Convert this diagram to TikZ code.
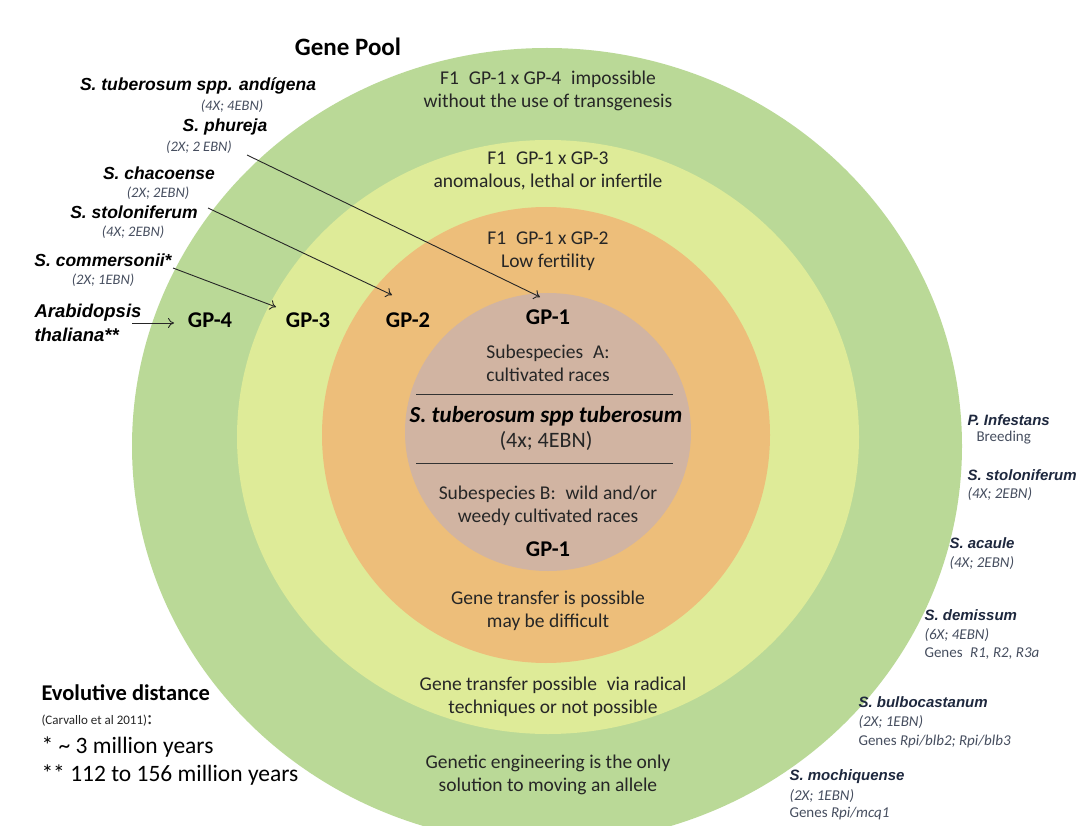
\documentclass[tikz,border=0pt]{standalone}
\usepackage{fontspec}
\setmainfont{Carlito}
\newfontfamily\spfont{Liberation Sans}
\usetikzlibrary{arrows.meta}
\definecolor{ringA}{RGB}{186,217,151}
\definecolor{ringB}{RGB}{222,235,152}
\definecolor{ringC}{RGB}{237,190,122}
\definecolor{ringD}{RGB}{209,180,162}
\definecolor{txt}{RGB}{38,38,38}
\definecolor{navy}{RGB}{30,40,62}
\definecolor{subgray}{RGB}{70,78,95}
\tikzset{
  main/.style={font=\fontsize{19.5}{23}\selectfont, text=txt, align=center},
  gplabel/.style={font=\bfseries\fontsize{22.5}{24}\selectfont, text=black},
  spname/.style={font=\spfont\bfseries\itshape\fontsize{17.5}{20}\selectfont, text=black},
  spsub/.style={font=\itshape\fontsize{14.5}{16}\selectfont, text=subgray},
  rname/.style={font=\spfont\bfseries\itshape\fontsize{15}{17}\selectfont, text=navy, anchor=west},
  rsub/.style={font=\fontsize{15}{17}\selectfont, text=subgray, anchor=west},
  rsubi/.style={rsub, font=\itshape\fontsize{15}{17}\selectfont},
  link/.style={-{To[length=6pt,width=10pt]}, line width=0.9pt, draw=black!85},
  sep/.style={line width=0.9pt, draw=black!80},
  evotext/.style={font=\fontsize{23.5}{26}\selectfont, text=black, anchor=west}
}
\begin{document}
\begin{tikzpicture}[x=1pt,y=-1pt]
\useasboundingbox (0,0) rectangle (1092,826);
\clip (0,0) rectangle (1092,826);
\fill[white] (0,0) rectangle (1092,826);
% rings
\fill[ringA] (547,446) ellipse [x radius=415, y radius=398];
\fill[ringB] (548,437) ellipse [x radius=311, y radius=297];
\fill[ringC] (546,435) ellipse [x radius=224, y radius=228];
\fill[ringD] (548,432) ellipse [x radius=143, y radius=139];

% title
\node[font=\bfseries\fontsize{25}{28}\selectfont, text=black] (title) at (348,47) {Gene Pool};

% ring texts
\node[main] (t4) at (548,91) {F1\enspace GP-1 x GP-4\enspace impossible\\without the use of transgenesis};
\node[main] (t3) at (548,171) {F1\enspace GP-1 x GP-3\\anomalous, lethal or infertile};
\node[main] (t2) at (548,251) {F1\enspace GP-1 x GP-2\\Low fertility};

\node[gplabel] (gp4) at (210,320) {GP-4};
\node[gplabel] (gp3) at (308,320) {GP-3};
\node[gplabel] (gp2) at (408,320) {GP-2};
\node[gplabel] (gp1a) at (548,317) {GP-1};

\node[main] (subA) at (548,363) {Subespecies\enspace A:\\cultivated races};
\coordinate (l1a) at (416,394); \coordinate (l1b) at (673,394);
\draw[sep] (l1a) -- (l1b);
\node[font=\bfseries\itshape\fontsize{23}{26}\selectfont, text=black] (tub) at (546,416) {S. tuberosum spp tuberosum};
\node[main, font=\fontsize{22}{24}\selectfont] (tubsub) at (546,441) {(4x; 4EBN)};
\coordinate (l2a) at (416,463); \coordinate (l2b) at (673,463);
\draw[sep] (l2a) -- (l2b);
\node[main] (subB) at (548,506) {Subespecies B:\enspace wild and/or\\weedy cultivated races};
\node[gplabel] (gp1b) at (548,549) {GP-1};

\node[main] (g2) at (548,611) {Gene transfer is possible\\may be difficult};
\node[main] (g3) at (553,697) {Gene transfer possible\enspace via radical\\techniques or not possible};
\node[main] (g4) at (548,775) {Genetic engineering is the only\\solution to moving an allele};

% left species
\node[spname] (andi) at (198,86) {S. tuberosum spp. andígena};
\node[spsub] (andis) at (232,106) {(4X; 4EBN)};
\node[spname] (phu) at (225,127) {S. phureja};
\node[spsub] (phus) at (199,147) {(2X; 2 EBN)};
\node[spname] (chac) at (159,173) {S. chacoense};
\node[spsub] (chacs) at (158,193) {(2X; 2EBN)};
\node[spname] (stol) at (134,212) {S. stoloniferum};
\node[spsub] (stols) at (133,232) {(4X; 2EBN)};
\node[spname] (comm) at (103,260) {S. commersonii*};
\node[spsub] (comms) at (103,280) {(2X; 1EBN)};
\node[spname, anchor=west, font=\spfont\bfseries\itshape\fontsize{18.5}{20}\selectfont] (arab) at (31,313) {Arabidopsis};
\node[spname, anchor=west, font=\spfont\bfseries\itshape\fontsize{18.5}{20}\selectfont] (thal) at (31,335) {thaliana**};

\coordinate (aphu) at (247,155); \coordinate (ephu) at (540,297);
\coordinate (astol) at (208,208); \coordinate (estol) at (392,295);
\coordinate (acomm) at (173,268); \coordinate (ecomm) at (276,307);
\coordinate (aarab) at (132,323); \coordinate (earab) at (174,323);
\draw[link] (aphu) -- (ephu);
\draw[link] (astol) -- (estol);
\draw[link] (acomm) -- (ecomm);
\draw[link] (aarab) -- (earab);

% right species
\node[rname] (pinf) at (964,420) {P. Infestans};
\node[rsub] (pinfs) at (973,438) {Breeding};
\node[rname] (rstol) at (964,475) {S. stoloniferum};
\node[rsubi] (rstols) at (964,494) {(4X; 2EBN)};
\node[rname] (acau) at (946,543) {S. acaule};
\node[rsubi] (acaus) at (946,563) {(4X; 2EBN)};
\node[rname] (demi) at (921,615) {S. demissum};
\node[rsubi] (demis) at (921,635) {(6X; 4EBN)};
\node[rsub] (demig) at (921,654) {Genes\enspace\textit{R1, R2, R3a}};
\node[rname] (bulb) at (855,702) {S. bulbocastanum};
\node[rsubi] (bulbs) at (855,722) {(2X; 1EBN)};
\node[rsub] (bulbg) at (855,741) {Genes \textit{Rpi/blb2; Rpi/blb3}};
\node[rname] (moch) at (786,777) {S. mochiquense};
\node[rsubi] (mochs) at (786,796) {(2X; 1EBN)};
\node[rsub] (mochg) at (786,814) {Genes \textit{Rpi/mcq1}};

% evolutive distance
\node[font=\bfseries\fontsize{22.5}{25}\selectfont, text=black, anchor=west] (evo) at (38,693) {Evolutive distance};
\node[font=\fontsize{13}{14}\selectfont, text=txt, anchor=west] (carv) at (38,721) {(Carvallo et al 2011){\fontsize{20}{20}\selectfont:}};
\node[evotext] (d1) at (38,747) {* \textasciitilde\ 3 million years};
\node[evotext] (d2) at (38,775) {** 112 to 156 million years};
\end{tikzpicture}
\end{document}
